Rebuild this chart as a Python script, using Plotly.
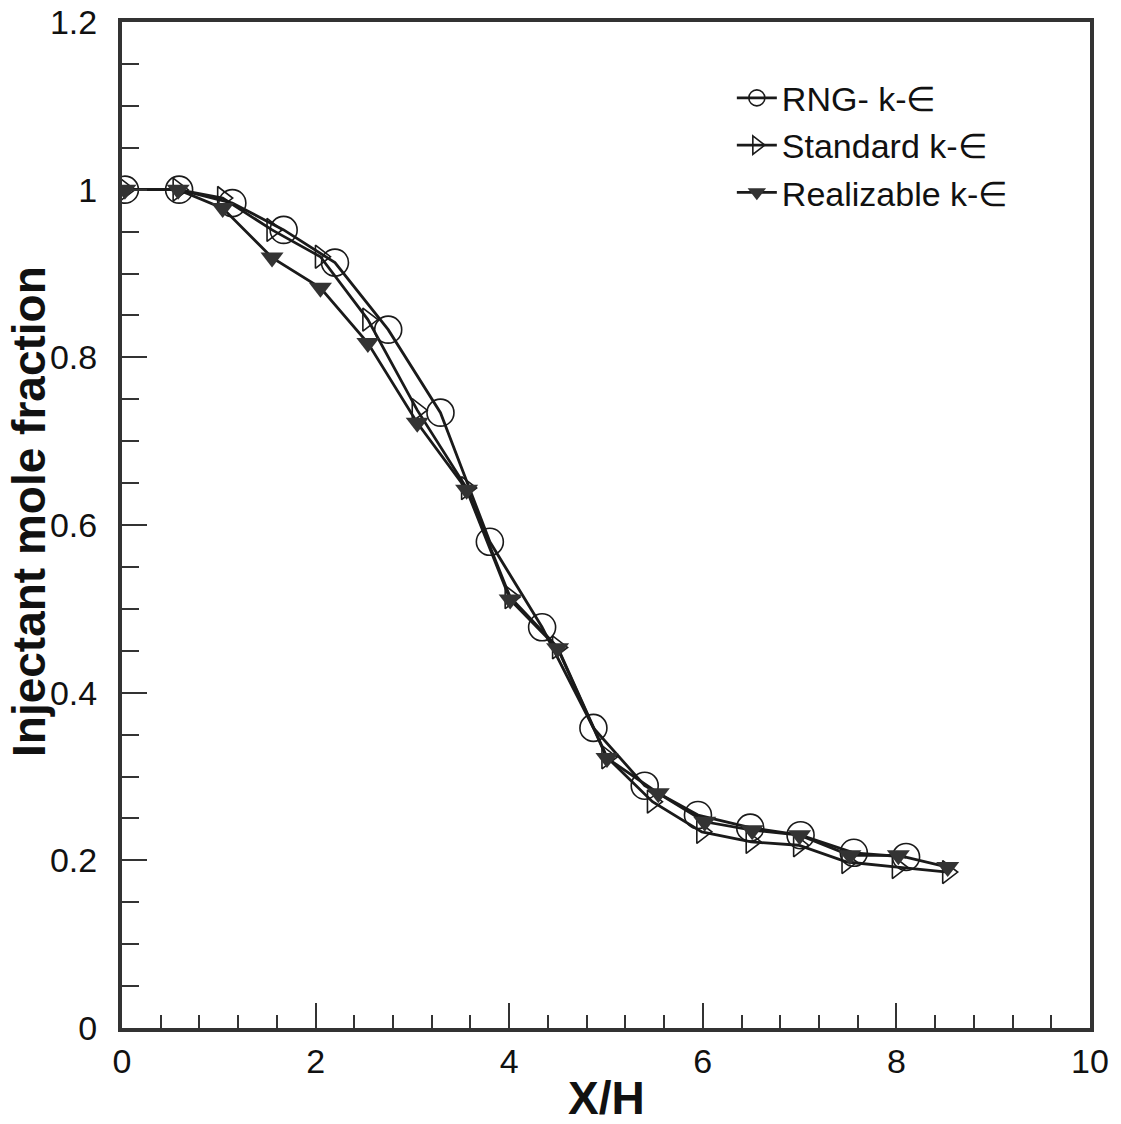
import plotly.graph_objects as go

# RNG k-e (open circles)
rng_x = [0.03, 0.59, 1.14, 1.67, 2.20, 2.75, 3.29, 3.80, 4.34, 4.87, 5.40, 5.95, 6.49, 7.01, 7.56, 8.10]
rng_y = [1.0, 1.0, 0.984, 0.952, 0.913, 0.833, 0.734, 0.580, 0.478, 0.358, 0.289, 0.254, 0.239, 0.230, 0.209, 0.204]

# Standard k-e (open right triangles)
std_x = [0.03, 0.58, 1.04, 1.55, 2.05, 2.54, 3.05, 3.56, 4.01, 4.50, 5.01, 5.48, 5.99, 6.50, 6.99, 7.49, 8.01, 8.53]
std_y = [1.0, 1.0, 0.990, 0.952, 0.920, 0.845, 0.737, 0.644, 0.514, 0.454, 0.323, 0.270, 0.234, 0.222, 0.218, 0.198, 0.192, 0.186]

# Realizable k-e (filled down triangles)
rea_x = [0.03, 0.58, 1.04, 1.55, 2.05, 2.54, 3.05, 3.56, 4.01, 4.50, 5.01, 5.54, 6.02, 6.51, 7.00, 7.52, 8.02, 8.53]
rea_y = [1.0, 1.0, 0.978, 0.919, 0.883, 0.817, 0.722, 0.642, 0.511, 0.453, 0.322, 0.280, 0.246, 0.236, 0.230, 0.206, 0.206, 0.192]

names = ["RNG- k-\u2208", "Standard k-\u2208", "Realizable k-\u2208"]

y_ticks = [0, 0.2, 0.4, 0.6, 0.8, 1.0, 1.2]
y_labels = ["0", "0.2", "0.4", "0.6", "0.8", "1", "1.2"]
x_ticks = [0, 2, 4, 6, 8, 10]

x_title = "X/H"
y_title = "Injectant mole fraction"

ink = "#1a1a1a"
fig = go.Figure()
fig.add_trace(go.Scatter(x=rng_x, y=rng_y, name=names[0], mode="lines+markers",
                         line=dict(color=ink, width=2.8),
                         marker=dict(symbol="circle-open", size=27, color=ink, line=dict(width=1.6))))
fig.add_trace(go.Scatter(x=std_x, y=std_y, name=names[1], mode="lines+markers",
                         line=dict(color=ink, width=2.8),
                         marker=dict(symbol="triangle-right-open", size=20, color=ink, line=dict(width=1.6))))
fig.add_trace(go.Scatter(x=rea_x, y=rea_y, name=names[2], mode="lines+markers",
                         line=dict(color=ink, width=2.8),
                         marker=dict(symbol="triangle-down", size=20, color="#333333")))

font_family = "Liberation Sans, Arial, sans-serif"
fig.update_layout(
    width=1121, height=1124,
    margin=dict(l=122, r=31, t=22, b=96, autoexpand=False),
    plot_bgcolor="white", paper_bgcolor="white",
    font=dict(family=font_family, color="#111111", size=34),
    showlegend=True,
    legend=dict(x=0.63, y=0.953, xanchor="left", yanchor="top",
                bgcolor="rgba(0,0,0,0)", font=dict(size=34, family=font_family),
                itemwidth=40, tracegroupgap=0),
    xaxis=dict(range=[0, 10], tickmode="array", tickvals=x_ticks,
               showgrid=False, zeroline=False,
               showline=True, linewidth=4, linecolor="#333333", mirror=True,
               automargin=False, ticklabeloverflow="allow",
               ticks="inside", ticklen=25, tickwidth=2, tickcolor="#333333",
               minor=dict(dtick=0.4, tick0=0, ticks="inside", ticklen=13, tickwidth=1.5, tickcolor="#333333"),
               tickfont=dict(size=34)),
    yaxis=dict(range=[0, 1.2], tickmode="array", tickvals=y_ticks, ticktext=y_labels,
               showgrid=False, zeroline=False,
               showline=True, linewidth=4, linecolor="#333333", mirror=True,
               automargin=False, ticklabeloverflow="allow",
               ticks="inside", ticklen=25, tickwidth=2, tickcolor="#333333",
               minor=dict(dtick=0.05, tick0=0, ticks="inside", ticklen=17, tickwidth=1.5, tickcolor="#333333"),
               tickfont=dict(size=34), ticklabelstandoff=14),
    annotations=[
        dict(text="<b>" + y_title + "</b>", xref="paper", yref="paper",
             x=-0.096, y=0.513, xanchor="center", yanchor="middle",
             textangle=-90, showarrow=False,
             font=dict(size=46, family=font_family, color="#111111")),
        dict(text="<b>" + x_title + "</b>", xref="paper", yref="paper",
             x=0.5, y=-0.07, xanchor="center", yanchor="middle",
             showarrow=False,
             font=dict(size=46, family=font_family, color="#111111")),
    ],
)

fig.write_html("out.html", config={"displayModeBar": False},
               post_script="document.body.style.margin='0px';document.body.style.overflow='hidden';")
